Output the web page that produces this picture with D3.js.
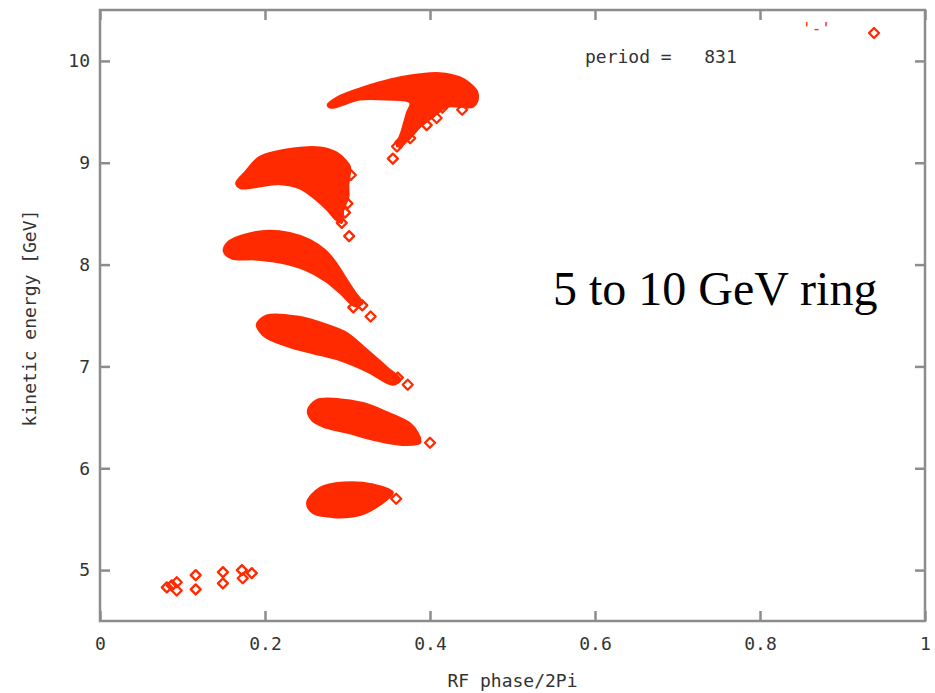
<!DOCTYPE html>
<html>
<head>
  <script src="https://cdn.jsdelivr.net/npm/d3@7"></script>
  <style>
    body { margin: 0; background: #fff; }
    .axis text { font: 18px "DejaVu Sans Mono", monospace; fill: #333; }
    .axis line { stroke: #8c8c8c; stroke-width: 2.5; }
    .axis path { display: none; }
    .label { font: 18px "DejaVu Sans Mono", monospace; fill: #333; }
  </style>
</head>
<body>
  <svg class="chart"></svg>
  <script>
    // phase/2Pi vs kinetic energy [GeV]
    // outlines of the dense bunches (the area covered by overlapping markers)
    var bunchA = [[0.276, 9.57], [0.287, 9.64], [0.315, 9.73], [0.339, 9.79], [0.364, 9.84],
      [0.388, 9.87], [0.412, 9.88], [0.436, 9.84], [0.448, 9.78], [0.457, 9.70], [0.458, 9.62],
      [0.452, 9.55], [0.421, 9.55], [0.404, 9.45], [0.388, 9.35], [0.373, 9.22], [0.360, 9.16],
      [0.366, 9.32], [0.372, 9.49], [0.376, 9.59], [0.348, 9.62], [0.315, 9.62], [0.280, 9.54]];
    var bunchB = [[0.165, 8.80], [0.176, 8.91], [0.194, 9.06], [0.234, 9.14], [0.267, 9.15],
      [0.287, 9.10], [0.297, 9.03], [0.303, 8.96], [0.301, 8.78], [0.301, 8.66], [0.295, 8.54],
      [0.293, 8.41], [0.286, 8.44], [0.275, 8.54], [0.263, 8.63], [0.242, 8.75], [0.218, 8.79],
      [0.188, 8.76], [0.170, 8.75]];
    var bunchC = [[0.150, 8.13], [0.155, 8.22], [0.170, 8.28], [0.200, 8.33], [0.230, 8.31],
      [0.255, 8.24], [0.273, 8.14], [0.285, 8.03], [0.297, 7.88], [0.309, 7.73], [0.318, 7.62],
      [0.309, 7.59], [0.291, 7.72], [0.273, 7.84], [0.248, 7.95], [0.218, 8.02], [0.188, 8.05],
      [0.160, 8.06]];
    var bunchD = [[0.190, 7.41], [0.202, 7.50], [0.239, 7.49], [0.275, 7.41], [0.299, 7.33],
      [0.324, 7.16], [0.348, 6.99], [0.364, 6.87], [0.355, 6.82], [0.324, 6.95], [0.291, 7.06],
      [0.258, 7.13], [0.230, 7.19], [0.202, 7.28], [0.194, 7.34]];
    var bunchE = [[0.252, 6.57], [0.263, 6.67], [0.287, 6.68], [0.319, 6.64], [0.348, 6.55],
      [0.376, 6.44], [0.385, 6.35], [0.388, 6.25], [0.364, 6.23], [0.331, 6.28], [0.299, 6.35],
      [0.270, 6.41], [0.257, 6.47]];
    var bunchF = [[0.251, 5.66], [0.267, 5.81], [0.295, 5.86], [0.331, 5.84], [0.355, 5.76],
      [0.339, 5.64], [0.315, 5.54], [0.282, 5.52], [0.258, 5.56]];

    // single particles standing out of the bunches
    var particles = [
      [0.439, 9.52], [0.415, 9.54], [0.408, 9.44], [0.396, 9.37], [0.376, 9.24], [0.364, 9.20],
      [0.360, 9.16], [0.355, 9.04],
      [0.304, 8.88], [0.300, 8.60], [0.297, 8.51], [0.293, 8.41], [0.302, 8.28],
      [0.307, 7.58], [0.318, 7.60], [0.328, 7.49],
      [0.330, 7.04], [0.345, 6.95], [0.361, 6.89], [0.373, 6.82],
      [0.382, 6.30], [0.400, 6.25],
      [0.359, 5.70],
      [0.081, 4.83], [0.087, 4.85], [0.093, 4.88], [0.093, 4.80], [0.116, 4.95], [0.116, 4.81],
      [0.149, 4.98], [0.149, 4.87], [0.172, 5.00], [0.173, 4.92], [0.184, 4.97]];

    var xTicks = [0, 0.2, 0.4, 0.6, 0.8, 1];
    var yTicks = [5, 6, 7, 8, 9, 10];

    var width = 935, height = 693;
    var m = { left: 100, right: 925, top: 10, bottom: 621 };
    var red = '#ff2a00';

    var x = d3.scaleLinear().domain([0, 1]).range([m.left, m.right]);
    var y = d3.scaleLinear().domain([4.5, 10.5]).range([m.bottom, m.top]);

    var svg = d3.select('.chart')
      .attr('width', width)
      .attr('height', height);

    // axes with inward ticks on all four sides
    svg.append('g').attr('class', 'axis')
      .attr('transform', 'translate(' + m.left + ',0)')
      .call(d3.axisLeft(y).tickValues(yTicks).tickSize(-10).tickPadding(10).tickFormat(d3.format('d')));
    svg.append('g').attr('class', 'axis')
      .attr('transform', 'translate(' + m.right + ',0)')
      .call(d3.axisRight(y).tickValues(yTicks).tickSize(-10).tickFormat(''));
    svg.append('g').attr('class', 'axis')
      .attr('transform', 'translate(0,' + m.bottom + ')')
      .call(d3.axisBottom(x).tickValues(xTicks).tickSize(-10).tickPadding(16).tickFormat(function (d) { return String(d); }));
    svg.append('g').attr('class', 'axis')
      .attr('transform', 'translate(0,' + m.top + ')')
      .call(d3.axisTop(x).tickValues(xTicks).tickSize(-10).tickFormat(''));

    svg.append('rect')
      .attr('x', m.left).attr('y', m.top)
      .attr('width', m.right - m.left).attr('height', m.bottom - m.top)
      .attr('fill', 'none')
      .attr('stroke', '#8c8c8c')
      .attr('stroke-width', 2.5);

    // bunches
    var line = d3.line()
      .x(function (d) { return x(d[0]); })
      .y(function (d) { return y(d[1]); })
      .curve(d3.curveCatmullRomClosed);

    svg.selectAll('path.bunch')
      .data([bunchA, bunchB, bunchC, bunchD, bunchE, bunchF])
      .enter().append('path')
      .attr('class', 'bunch')
      .attr('d', line)
      .attr('fill', red)
      .attr('stroke', red)
      .attr('stroke-width', 2)
      .attr('stroke-linejoin', 'round');

    var diamond = 'M0,-5L5,0L0,5L-5,0Z';

    svg.selectAll('path.pt')
      .data(particles)
      .enter().append('path')
      .attr('class', 'pt')
      .attr('d', diamond)
      .attr('transform', function (d) { return 'translate(' + x(d[0]) + ',' + y(d[1]) + ')'; })
      .attr('fill', 'none')
      .attr('stroke', red)
      .attr('stroke-width', 2.3)
      .attr('stroke-linejoin', 'round');

    // key
    svg.append('text').attr('class', 'label')
      .attr('x', 831).attr('y', 34)
      .attr('text-anchor', 'end')
      .style('fill', red)
      .style('font-size', '16px')
      .text("'-'");
    svg.append('path')
      .attr('d', diamond)
      .attr('transform', 'translate(874,33)')
      .attr('fill', 'none')
      .attr('stroke', red)
      .attr('stroke-width', 2.3)
      .attr('stroke-linejoin', 'round');

    svg.append('text').attr('class', 'label')
      .attr('x', 585).attr('y', 63)
      .attr('xml:space', 'preserve')
      .style('white-space', 'pre')
      .text('period =   831');

    svg.append('text').attr('class', 'label')
      .attr('x', (m.left + m.right) / 2).attr('y', 687)
      .attr('text-anchor', 'middle')
      .text('RF phase/2Pi');

    svg.append('text').attr('class', 'label')
      .attr('transform', 'translate(36,318) rotate(-90)')
      .attr('text-anchor', 'middle')
      .text('kinetic energy [GeV]');

    svg.append('text')
      .attr('x', 553).attr('y', 305)
      .style('font', '48px "Liberation Serif", "Times New Roman", serif')
      .style('fill', '#000')
      .text('5 to 10 GeV ring');
  </script>
</body>
</html>
